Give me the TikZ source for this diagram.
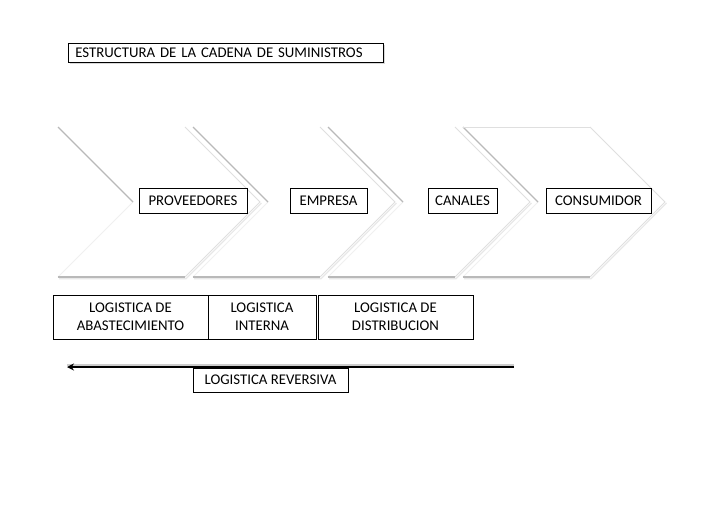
\documentclass[tikz,border=0pt]{standalone}
\usepackage{fontspec}
\setmainfont{Carlito}
\usetikzlibrary{arrows.meta,shadows}
\begin{document}
\begin{tikzpicture}[x=1pt,y=-1pt,
  every node/.style={font=\fontsize{14.8}{17.8}\selectfont},
  lbl/.style={draw=black,line width=0.8pt,fill=white,inner sep=0pt,align=center},
  chevfill/.style={fill=white,draw=none},
  chevdark/.style={draw=gray!55,line width=1.3pt},
  chevlight/.style={draw=gray!25,line width=1pt},
]
\useasboundingbox (0,0) rectangle (728,515);
\fill[white] (0,0) rectangle (728,515);

% title
\node[lbl,anchor=north west,minimum height=19pt,text width=301pt,inner xsep=7pt,align=left,
  drop shadow={shadow xshift=2pt,shadow yshift=-2pt,opacity=0.3}] (title) at (68,43)
  {ESTRUCTURA DE LA CADENA DE SUMINISTROS};

% chevrons
\foreach \L/\n in {58/1,193/2,328/3,463/4}{
  \coordinate (c\n a) at (\L,127);
  \coordinate (c\n b) at (\L+127,127);
  \coordinate (c\n c) at (\L+202,202);
  \coordinate (c\n d) at (\L+127,277);
  \coordinate (c\n e) at (\L,277);
  \coordinate (c\n f) at (\L+75,202);
  \draw[gray!18,line width=1.2pt] ([shift={(1,1.8)}]c\n e) -- ([shift={(1,1.8)}]c\n d) -- ([shift={(1.5,1)}]c\n c);
  \path[chevfill] (c\n a) -- (c\n b) -- (c\n c) -- (c\n d) -- (c\n e) -- (c\n f) -- cycle;
  \draw[chevlight] (c\n b) -- (c\n c) -- (c\n d);
  \draw[draw=gray!12,line width=0.8pt] (c\n f) -- (c\n e);
  \draw[chevdark] (c\n a) -- (c\n f);
  \draw[chevdark] (c\n e) -- (c\n d);
}
\draw[draw=gray!25,line width=0.8pt] (c4a) -- (c4b);

% stage labels
\node[lbl,minimum width=108pt,minimum height=25pt] (prov) at (193,200.5) {PROVEEDORES};
\node[lbl,minimum width=77pt,minimum height=25pt] (emp) at (328.5,200.5) {EMPRESA};
\node[lbl,minimum width=69pt,minimum height=25pt] (can) at (462.5,200.5) {CANALES};
\node[lbl,minimum width=105pt,minimum height=25pt] (cons) at (598.5,200.5) {CONSUMIDOR};

% logistics boxes
\node[lbl,minimum width=155pt,minimum height=44pt] (abas) at (130.5,317) {LOGISTICA DE\\ABASTECIMIENTO};
\node[lbl,minimum width=108pt,minimum height=44pt] (int) at (262,317) {LOGISTICA\\INTERNA};
\node[lbl,minimum width=155pt,minimum height=44pt] (dist) at (395.5,317) {LOGISTICA DE\\DISTRIBUCION};

% reverse arrow
\coordinate (arrS) at (514,367);
\coordinate (arrE) at (67,367);
\draw[gray!40,line width=1.3pt] ([yshift=2pt]arrS) -- ([yshift=2pt]arrE);
\draw[line width=1.3pt,-{Stealth[length=7pt,width=7pt]}] (arrS) -- (arrE);
\node[lbl,minimum width=155pt,minimum height=24pt] (rev) at (270.5,380) {LOGISTICA REVERSIVA};
\end{tikzpicture}
\end{document}
